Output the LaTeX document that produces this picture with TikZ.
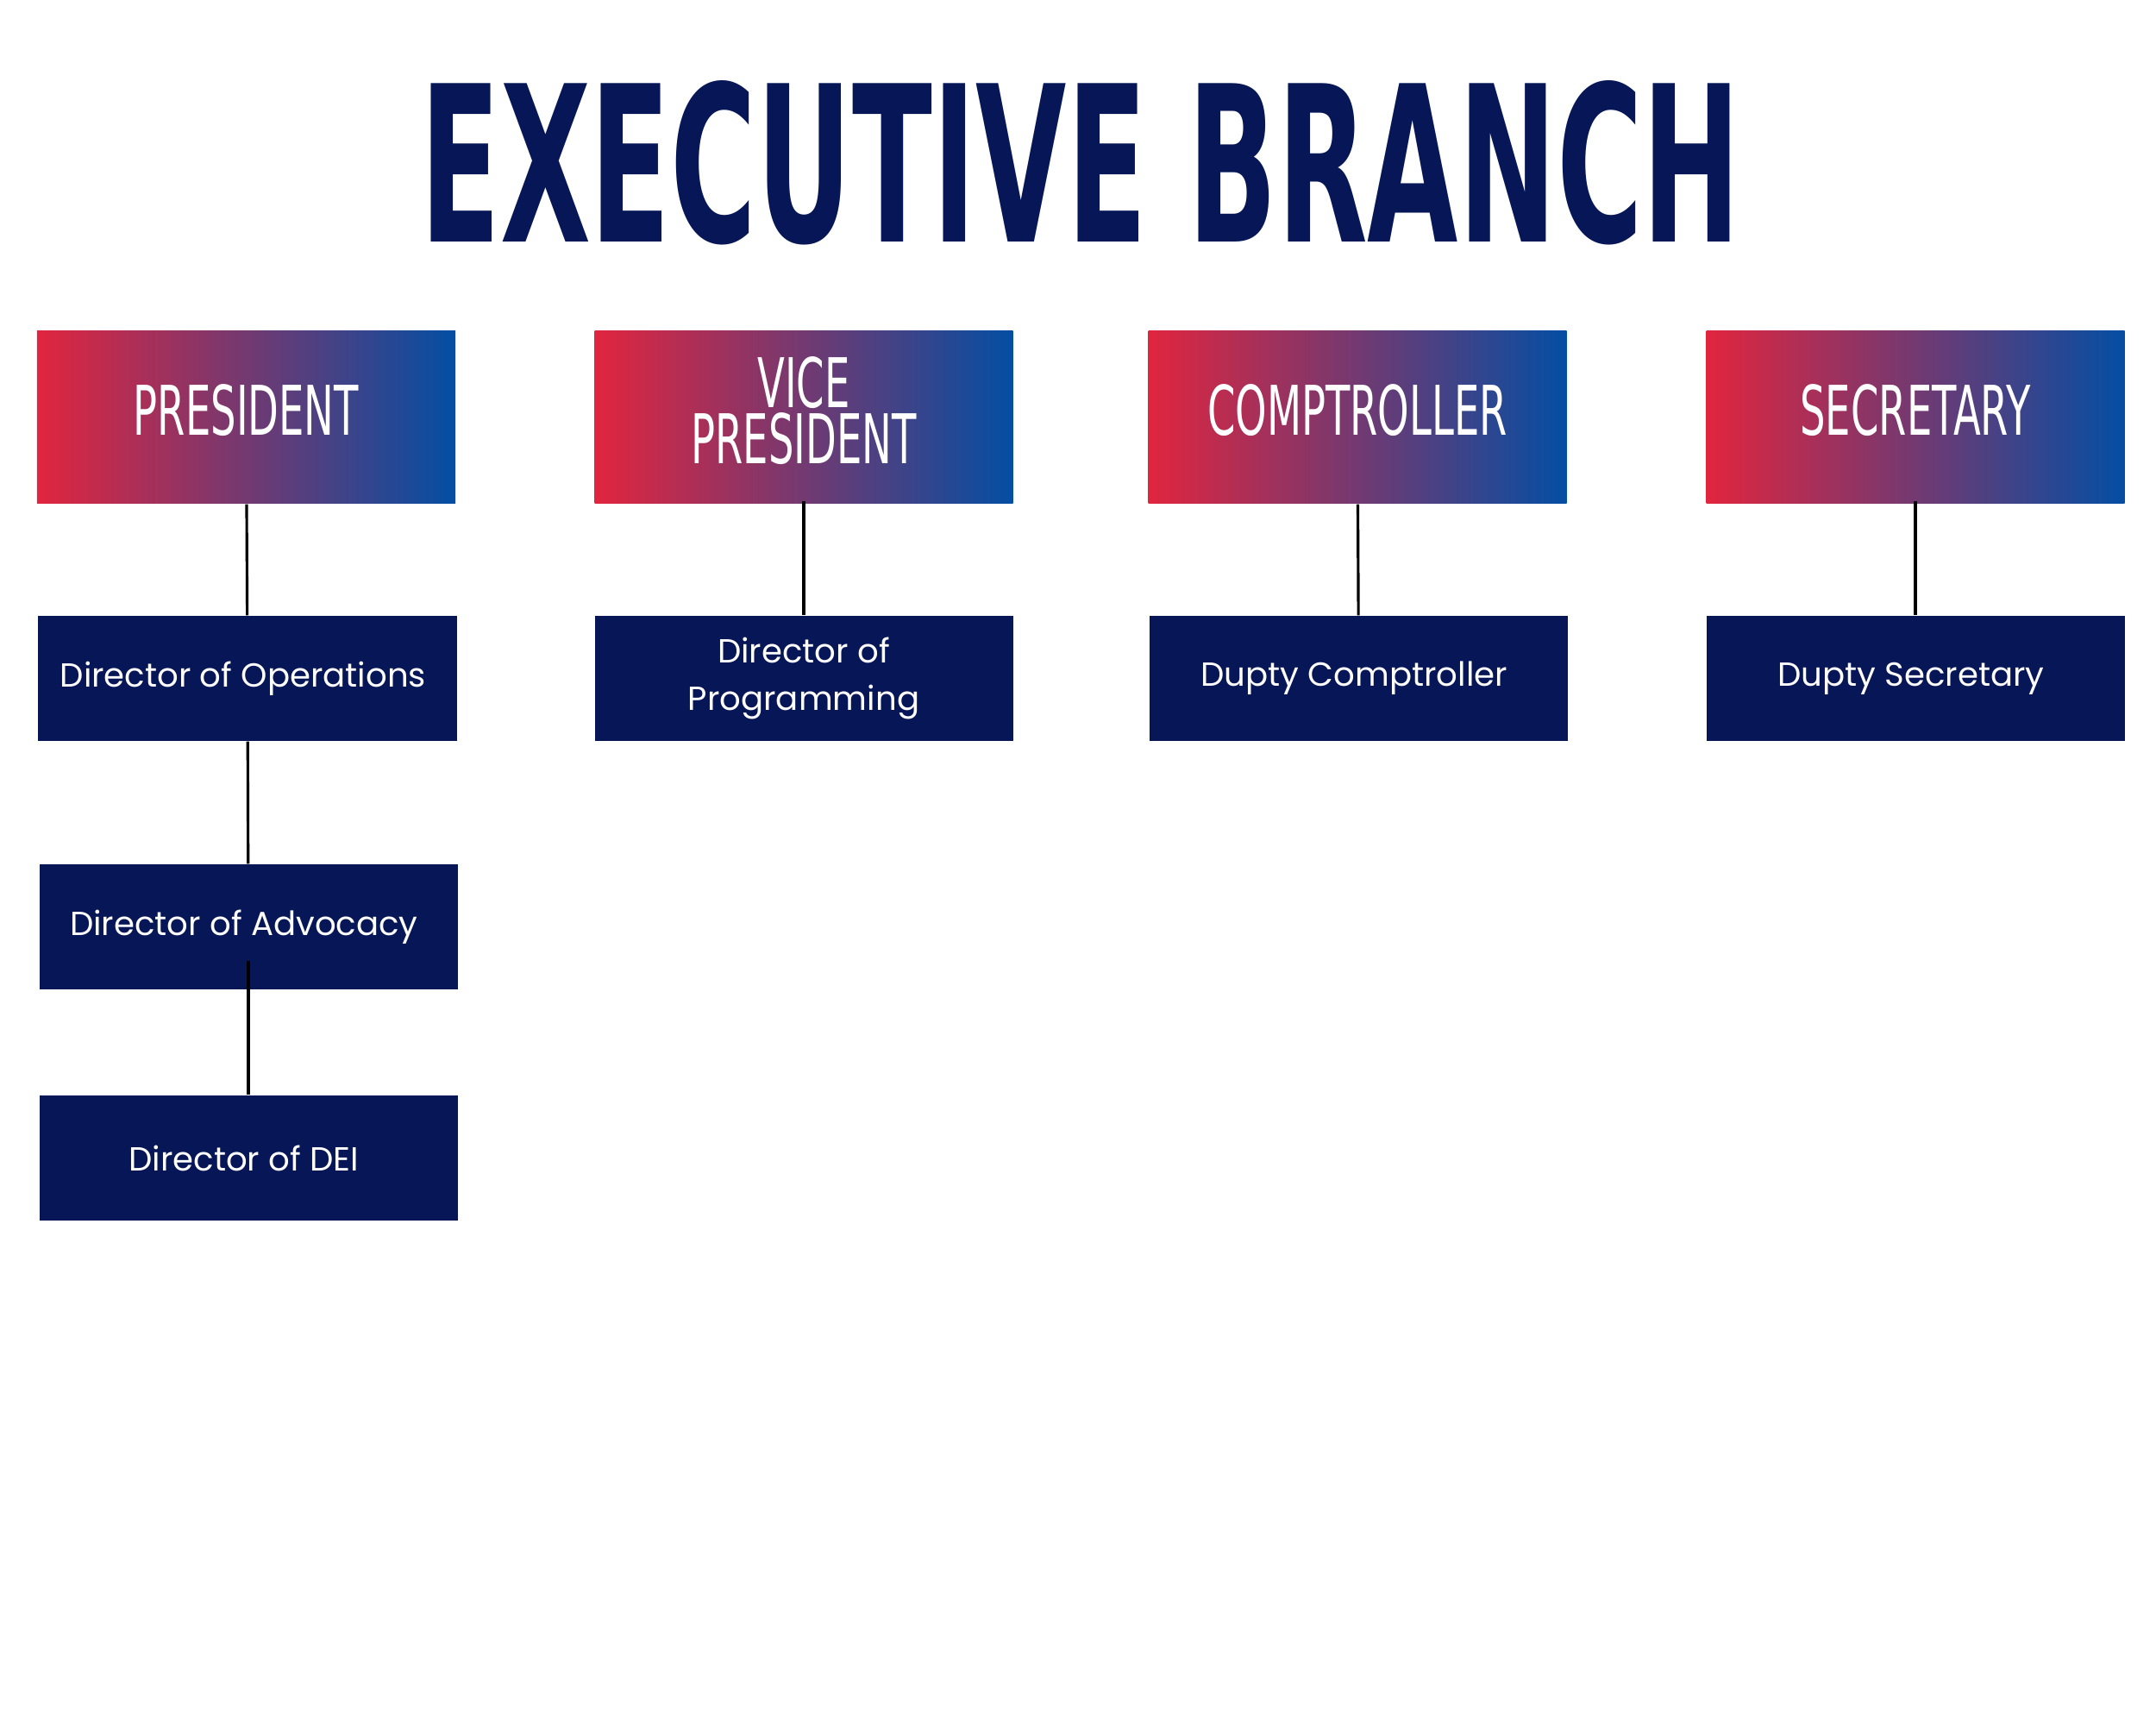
\documentclass[tikz,border=0pt]{standalone}
\usepackage{fontspec}
\usepackage{xcolor}
\usepackage{tikz}
\usetikzlibrary{positioning}
\setmainfont{Poppins}
\newfontfamily\bannerfont[FakeStretch=0.54]{DejaVu Sans Bold}
\newfontfamily\headfont[FakeStretch=0.585]{DejaVu Sans}
\definecolor{navy}{HTML}{061656}
\definecolor{redtone}{HTML}{E1253F}
\definecolor{bluetone}{HTML}{044EA3}

\begin{document}
\begin{tikzpicture}[
    head/.style = {rectangle, left color = redtone, right color = bluetone,
      minimum width = 4.85cm, minimum height = 2cm, inner sep = 0pt,
      text = white, align = center, text depth = 0.17cm,
      font = \headfont\fontsize{22.6}{18.6}\selectfont},
    sub/.style = {rectangle, fill = navy, text = white,
      minimum width = 4.85cm, minimum height = 1.45cm, inner sep = 0pt,
      align = center, font = \fontsize{11}{15.9}\selectfont},
    link/.style = {draw = black, line width = 0.9pt}
  ]
  \useasboundingbox (0, 0) rectangle (25, 20);

  \node[text = navy, inner sep = 0pt,
    font = \bannerfont\fontsize{71.7}{72}\selectfont] (title) at (12.53, 18.11){%
    EXECUTIVE BRANCH%
  };

  \node[head] (pres) at (2.855, 15.16){%
    PRESIDENT%
  };

  \node[head] (vp) at (9.32, 15.16){%
    VICE\\PRESIDENT%
  };

  \node[head] (comp) at (15.74, 15.16){%
    COMPTROLLER%
  };

  \node[head] (sec) at (22.21, 15.16){%
    SECRETARY%
  };

  \node[sub] (ops) at (2.87, 12.135){
    Director of Operations
  };

  \node[sub] (adv) at (2.88, 9.255){
    Director of Advocacy
  };

  \node[sub] (dei) at (2.88, 6.575){
    Director of DEI
  };

  \node[sub] (prog) at (9.32, 12.135){
    Director of\\Programming
  };

  \node[sub] (dcomp) at (15.755, 12.135){
    Dupty Comptroller
  };

  \node[sub] (dsec) at (22.21, 12.135){
    Dupty Secretary
  };

  \draw[link] (pres) -- (ops);
  \draw[link] (ops) -- (adv);
  \draw[link] ([yshift = 0.34cm]adv.south) -- (dei);
  \draw[link] ([yshift = 0.04cm]vp.south) -- (prog);
  \draw[link] (comp) -- (dcomp);
  \draw[link] ([yshift = 0.04cm]sec.south) -- (dsec);
\end{tikzpicture}
\end{document}
